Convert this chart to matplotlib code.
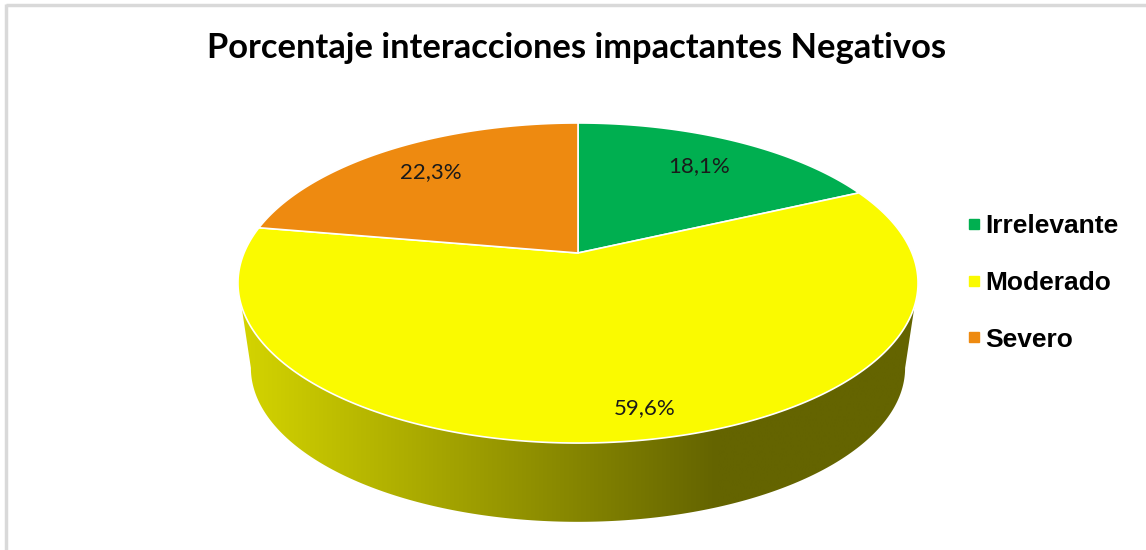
import numpy as np
import matplotlib.pyplot as plt
from matplotlib.patches import Polygon
from matplotlib.lines import Line2D
from matplotlib.colors import to_rgb

title = 'Porcentaje interacciones impactantes Negativos'
labels = ['Irrelevante', 'Moderado', 'Severo']
values = [18.1, 59.6, 22.3]
colors = ['#00AF50', '#FAFA00', '#EE8A10']
label_r = [0.75, 0.86, 0.76]
label_dt = [0, -3.7, 0]

TEXT_FONT = ['Lato', 'DejaVu Sans']

W, H = 1146, 550
fig = plt.figure(figsize=(W / 100, H / 100), dpi=100)
ax = fig.add_axes([0, 0, 1, 1])
ax.axis('off')

# tilted unit disc with a little perspective; theta runs clockwise from the back
CX, CY = 578, 253
RX, RY, PERSP = 334, 154.4, 0.1876
DROP, SHRINK = 86, 0.962


def top(theta, r=1.0):
    t = np.radians(theta)
    X, Y = r * np.sin(t), r * np.cos(t)
    w = 1 + PERSP * Y
    return CX + RX * X / w, CY - RY * Y / w


def bottom(theta):
    x, y = top(theta)
    return CX + SHRINK * (x - CX), CY + DROP + SHRINK * (y - CY)


bounds = np.concatenate([[0], np.cumsum(values)]) / sum(values) * 360
front_lo = np.degrees(np.arccos(-PERSP))
front_hi = 360 - front_lo

# side walls, shaded dark towards the right
gx = np.linspace(200, 960, 500)
shade = np.interp(gx, [240, 717], [0.85, 0.40])
for i, c in enumerate(colors):
    a0, a1 = max(bounds[i], front_lo), min(bounds[i + 1], front_hi)
    if a1 <= a0:
        continue
    ts = np.linspace(a0, a1, 200)
    tx, ty = top(ts)
    bx, by = bottom(ts[::-1])
    pts = np.column_stack([np.r_[tx, bx], np.r_[ty, by]])
    wall = Polygon(pts, closed=True, fc='none', ec='none', zorder=1)
    ax.add_patch(wall)
    img = np.array(to_rgb(c))[None, None, :] * shade[None, :, None]
    im = ax.imshow(img, extent=(200, 960, 540, 170), aspect='auto',
                   interpolation='bilinear', zorder=1)
    im.set_clip_path(wall)

# top faces
for i, c in enumerate(colors):
    ts = np.linspace(bounds[i], bounds[i + 1], 300)
    tx, ty = top(ts)
    pts = np.column_stack([np.r_[CX, tx], np.r_[CY, ty]])
    ax.add_patch(Polygon(pts, closed=True, fc=c, ec='white', lw=1.2, zorder=3))

    mid = (bounds[i] + bounds[i + 1]) / 2 + label_dt[i]
    lx, ly = top(mid, label_r[i])
    ax.text(lx, ly, f'{values[i]:.1f}%'.replace('.', ','), ha='center', va='center',
            fontsize=16, family=TEXT_FONT, color='#1a1a1a', zorder=4)

ax.text(577, 48, title, ha='center', va='center', fontsize=24.8, weight='bold',
        family=TEXT_FONT, color='black')

handles = [Line2D([], [], ls='none', marker='s', ms=6.5, mfc=c, mec=c) for c in colors]
ax.legend(handles, labels, loc='center left', bbox_to_anchor=(969 / W, 1 - 283 / H),
          frameon=False, prop=dict(family='Liberation Sans', weight='bold', size=19),
          handlelength=0.4, handletextpad=0.2, labelspacing=1.24,
          borderpad=0, borderaxespad=0)

# chart frame edges
ax.plot([6, 6], [4, H], color='#d9d9d9', lw=2.5, solid_capstyle='butt')
ax.plot([6, W], [4.5, 4.5], color='#d9d9d9', lw=2.5, solid_capstyle='butt')

ax.set_xlim(0, W)
ax.set_ylim(H, 0)
fig.savefig('out.png', dpi=100)
